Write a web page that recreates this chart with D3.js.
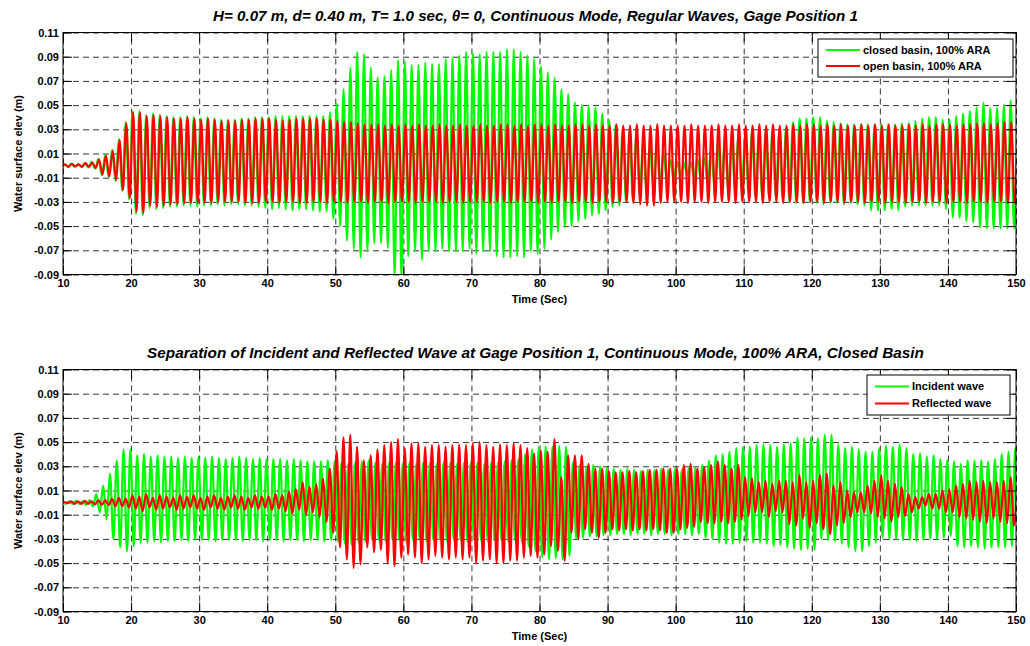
<!DOCTYPE html>
<html>
<head>
<meta charset="utf-8">
<script src="https://cdn.jsdelivr.net/npm/d3@7"></script>
<style>
body { margin: 0; background: #fff; }
text { font-family: "Liberation Sans", Arial, sans-serif; }
.grid line { stroke: #000; stroke-dasharray: 6,4; stroke-width: 0.8; }
.grid path { display: none; }
.ax path { display: none; }
.ax line { stroke: #000; }
.ax text { font-size: 11px; font-weight: bold; fill: #000; }
</style>
</head>
<body>
<script>
var width = 1030,
    height = 646;

// tick labels
var timeTicks = [10, 20, 30, 40, 50, 60, 70, 80, 90, 100, 110, 120, 130, 140, 150];
var elevTicks = [-0.09, -0.07, -0.05, -0.03, -0.01, 0.01, 0.03, 0.05, 0.07, 0.09, 0.11];

// one wave cycle per second (T = 1.0 sec), crest and trough read per cycle
var cycleSec = d3.range(10, 150);

// top panel: closed basin (green)
var closedPeak = [
  .001,.0015,.001,.002,.003,.0055,.009,.013,.022,.036,
  .045,.045,.042,.043,.042,.041,.040,.040,.041,.040,
  .039,.040,.039,.038,.038,.038,.039,.039,.040,.040,
  .040,.041,.041,.041,.041,.041,.041,.041,.041,.044,
  .051,.063,.081,.094,.092,.081,.073,.074,.079,.087,
  .086,.083,.083,.085,.084,.084,.088,.089,.091,.094,
  .093,.092,.094,.094,.094,.096,.096,.094,.091,.088,
  .082,.077,.0725,.063,.059,.052,.050,.049,.048,.043,
  .038,.034,.031,.028,.025,.020,.017,.0155,.011,.0045,
  .003,.002,.003,.005,.007,.015,.020,.021,.0225,.024,
  .025,.028,.027,.028,.029,.029,.031,.036,.039,.039,
  .040,.040,.037,.036,.035,.034,.034,.034,.034,.034,
  .034,.034,.034,.035,.035,.037,.039,.040,.040,.038,
  .038,.041,.043,.045,.048,.052,.0475,.048,.050,.054
];
var closedTrough = [
  -.001,-.001,-.001,-.0015,-.0025,-.008,-.0095,-.0125,-.021,-.028,
  -.040,-.041,-.035,-.036,-.035,-.034,-.034,-.033,-.033,-.034,
  -.033,-.033,-.032,-.033,-.032,-.032,-.033,-.033,-.034,-.035,
  -.036,-.035,-.036,-.037,-.036,-.036,-.037,-.038,-.038,-.044,
  -.050,-.062,-.069,-.076,-.071,-.064,-.064,-.068,-.092,-.092,
  -.075,-.071,-.078,-.071,-.071,-.069,-.071,-.071,-.071,-.069,
  -.073,-.071,-.071,-.075,-.076,-.076,-.075,-.076,-.071,-.073,
  -.069,-.061,-.055,-.051,-.050,-.046,-.044,-.041,-.040,-.037,
  -.034,-.033,-.030,-.029,-.025,-.021,-.018,-.016,-.014,-.011,
  -.008,-.008,-.0095,-.012,-.015,-.019,-.019,-.019,-.019,-.021,
  -.022,-.025,-.025,-.026,-.026,-.0275,-.030,-.031,-.031,-.030,
  -.031,-.032,-.031,-.031,-.032,-.031,-.032,-.033,-.037,-.037,
  -.037,-.036,-.037,-.034,-.033,-.033,-.033,-.033,-.033,-.036,
  -.043,-.043,-.046,-.047,-.051,-.052,-.052,-.052,-.052,-.052
];

// top panel: open basin (red)
var openPeak = [
  .001,.0015,.001,.002,.0025,.005,.0085,.0125,.021,.035,
  .044,.044,.041,.042,.041,.040,.039,.039,.040,.039,
  .038,.039,.038,.037,.037,.037,.038,.038,.039,.039,
  .039,.038,.037,.038,.039,.039,.039,.039,.038,.038,
  .037,.036,.036,.035,.034,.034,.034,.033,.034,.033,
  .034,.033,.034,.033,.033,.034,.033,.033,.034,.033,
  .033,.034,.033,.033,.034,.034,.033,.034,.033,.034,
  .034,.033,.034,.033,.033,.034,.034,.033,.034,.033,
  .033,.034,.033,.033,.034,.033,.033,.034,.033,.033,
  .033,.033,.034,.033,.033,.033,.034,.033,.033,.034,
  .033,.033,.034,.033,.034,.033,.033,.034,.033,.034,
  .034,.033,.034,.033,.034,.033,.033,.034,.033,.034,
  .033,.034,.033,.033,.034,.033,.034,.033,.034,.034,
  .034,.033,.034,.034,.035,.035,.034,.035,.036,.036
];
var openTrough = [
  -.001,-.0005,-.001,-.001,-.002,-.0075,-.009,-.012,-.020,-.027,
  -.038,-.039,-.033,-.034,-.033,-.032,-.032,-.031,-.031,-.031,
  -.031,-.031,-.030,-.030,-.030,-.030,-.031,-.031,-.031,-.030,
  -.030,-.031,-.030,-.030,-.031,-.031,-.030,-.030,-.031,-.030,
  -.030,-.031,-.030,-.030,-.031,-.030,-.030,-.031,-.030,-.030,
  -.030,-.031,-.030,-.030,-.030,-.031,-.030,-.030,-.031,-.030,
  -.030,-.030,-.031,-.030,-.030,-.031,-.030,-.030,-.030,-.031,
  -.030,-.031,-.030,-.030,-.031,-.030,-.030,-.031,-.030,-.030,
  -.031,-.030,-.030,-.031,-.032,-.033,-.033,-.031,-.030,-.030,
  -.030,-.031,-.030,-.030,-.031,-.030,-.030,-.030,-.031,-.030,
  -.030,-.030,-.031,-.030,-.030,-.031,-.030,-.030,-.031,-.030,
  -.030,-.031,-.030,-.030,-.031,-.030,-.030,-.031,-.030,-.030,
  -.031,-.030,-.030,-.031,-.030,-.030,-.031,-.030,-.030,-.031,
  -.030,-.030,-.031,-.030,-.030,-.031,-.030,-.030,-.031,-.031
];

// bottom panel: incident wave (green)
var incidentPeak = [
  .001,.0015,.001,.002,.007,.014,.024,.035,.044,.044,
  .039,.040,.038,.039,.038,.038,.037,.038,.037,.038,
  .037,.038,.037,.036,.037,.038,.037,.036,.037,.036,
  .036,.036,.035,.036,.035,.034,.034,.034,.035,.034,
  .033,.032,.033,.034,.035,.033,.032,.033,.033,.032,
  .033,.032,.033,.033,.032,.033,.033,.032,.033,.033,
  .033,.032,.033,.033,.034,.035,.036,.040,.044,.046,
  .046,.046,.047,.046,.033,.031,.030,.031,.030,.029,
  .028,.027,.028,.027,.026,.027,.027,.028,.027,.028,
  .027,.028,.029,.031,.035,.039,.040,.042,.045,.046,
  .046,.0475,.048,.0475,.046,.048,.049,.0535,.053,.054,
  .053,.056,.056,.048,.045,.046,.044,.042,.042,.045,
  .047,.046,.048,.045,.040,.041,.038,.039,.036,.035,
  .034,.032,.035,.035,.035,.034,.036,.040,.042,.045
];
var incidentTrough = [
  -.001,-.001,-.002,-.003,-.008,-.014,-.030,-.037,-.040,-.036,
  -.033,-.033,-.032,-.033,-.032,-.032,-.031,-.032,-.031,-.031,
  -.031,-.032,-.031,-.031,-.031,-.032,-.031,-.031,-.032,-.031,
  -.031,-.032,-.031,-.031,-.032,-.031,-.031,-.032,-.031,-.032,
  -.034,-.035,-.033,-.032,-.031,-.031,-.032,-.031,-.031,-.032,
  -.031,-.031,-.032,-.031,-.031,-.032,-.031,-.031,-.032,-.031,
  -.031,-.032,-.031,-.031,-.032,-.031,-.033,-.036,-.040,-.045,
  -.047,-.046,-.047,-.044,-.030,-.029,-.028,-.028,-.027,-.027,
  -.026,-.026,-.027,-.026,-.026,-.027,-.026,-.026,-.027,-.026,
  -.026,-.027,-.026,-.029,-.030,-.033,-.034,-.034,-.033,-.032,
  -.033,-.033,-.034,-.036,-.035,-.037,-.038,-.039,-.038,-.039,
  -.030,-.031,-.032,-.034,-.037,-.040,-.040,-.036,-.033,-.029,
  -.030,-.030,-.031,-.031,-.032,-.031,-.030,-.030,-.029,-.0275,
  -.036,-.037,-.036,-.037,-.038,-.037,-.037,-.037,-.036,-.043
];

// bottom panel: reflected wave (red)
var reflectedPeak = [
  .0005,.001,.001,.0015,.001,.002,.002,.003,.004,.003,
  .006,.005,.007,.004,.006,.005,.004,.006,.005,.006,
  .004,.005,.006,.004,.005,.006,.005,.004,.006,.005,
  .005,.007,.006,.009,.011,.017,.013,.015,.020,.028,
  .0425,.054,.056,.046,.035,.039,.044,.0475,.050,.0525,
  .045,.049,.049,.046,.0475,.0475,.046,.0475,.048,.0475,
  .049,.050,.0475,.046,.048,.0475,.049,.0475,.045,.0405,
  .043,.042,.0525,.021,.039,.039,.039,.032,.028,.028,
  .026,.025,.025,.026,.025,.026,.027,.027,.028,.028,
  .028,.031,.032,.028,.029,.031,.034,.031,.028,.031,
  .021,.020,.017,.018,.0155,.018,.018,.017,.0225,.017,
  .018,.0225,.024,.014,.017,.010,.0085,.0085,.014,.018,
  .0225,.018,.0155,.013,.007,.0045,.0045,.007,.007,.010,
  .011,.014,.0155,.018,.017,.018,.017,.017,.018,.021
];
var reflectedTrough = [
  -.0005,-.001,-.001,-.001,-.0015,-.002,-.002,-.003,-.003,-.004,
  -.005,-.007,-.004,-.006,-.005,-.004,-.006,-.005,-.004,-.005,
  -.006,-.004,-.005,-.006,-.004,-.005,-.006,-.004,-.005,-.004,
  -.006,-.005,-.007,-.009,-.006,-.010,-.008,-.012,-.016,-.025,
  -.037,-.047,-.054,-.051,-.037,-.041,-.039,-.050,-.0525,-.0455,
  -.043,-.0455,-.050,-.047,-.044,-.0455,-.047,-.0455,-.047,-.0455,
  -.050,-.048,-.047,-.050,-.050,-.048,-.048,-.0455,-.044,-.0455,
  -.043,-.036,-.040,-.048,-.025,-.030,-.022,-.025,-.029,-.025,
  -.022,-.023,-.022,-.023,-.022,-.023,-.022,-.023,-.025,-.025,
  -.022,-.021,-.020,-.016,-.017,-.017,-.016,-.017,-.016,-.014,
  -.011,-.008,-.008,-.012,-.007,-.008,-.018,-.019,-.0135,-.021,
  -.017,-.022,-.026,-.019,-.017,-.012,-.008,-.008,-.009,-.012,
  -.013,-.016,-.012,-.011,-.008,-.005,-.0025,-.005,-.005,-.008,
  -.008,-.012,-.013,-.0145,-.016,-.017,-.013,-.016,-.017,-.019
];

var margin = { left: 63, right: 14 },
    plotW = width - margin.left - margin.right,
    plotH = 242;

var panels = [
  {
    top: 32.5,
    title: "H= 0.07 m, d= 0.40 m, T= 1.0 sec, \u03b8= 0, Continuous Mode, Regular Waves, Gage Position 1",
    titleLen: 645,
    legend: { right: 3, top: 6.5, w: 195, h: 38 },
    series: [
      { name: "closed basin, 100% ARA", color: "#00ff00", peaks: closedPeak, troughs: closedTrough, phase: 0.22 },
      { name: "open basin, 100% ARA", color: "#ff0000", peaks: openPeak, troughs: openTrough, phase: 0.3 }
    ]
  },
  {
    top: 369.5,
    title: "Separation of Incident and Reflected Wave at Gage Position 1, Continuous Mode, 100% ARA, Closed Basin",
    titleLen: 777,
    legend: { right: 6, top: 5.5, w: 143, h: 40 },
    series: [
      { name: "Incident wave", color: "#00ff00", peaks: incidentPeak, troughs: incidentTrough, phase: 0.9 },
      { name: "Reflected wave", color: "#ff0000", peaks: reflectedPeak, troughs: reflectedTrough, phase: 0.2 }
    ]
  }
];

var x = d3.scaleLinear().domain([10, 150]).range([0, plotW]);
var y = d3.scaleLinear().domain([-0.09, 0.11]).range([plotH, 0]);

var line = d3.line()
    .x(function(d) { return x(d[0]); })
    .y(function(d) { return y(d[1]); })
    .curve(d3.curveMonotoneX);

// crest / trough sequence of one record
function wavePoints(s) {
  var t0 = cycleSec[0] + s.phase;
  var pts = [[t0 - 1, s.peaks[0]], [t0 - 0.5, s.troughs[0]]];
  cycleSec.forEach(function(t, i) {
    pts.push([t + s.phase, s.peaks[i]]);
    pts.push([t + s.phase + 0.5, s.troughs[i]]);
  });
  pts.push([cycleSec[cycleSec.length - 1] + 1 + s.phase, s.peaks[s.peaks.length - 1]]);
  return pts;
}

var svg = d3.select("body")
  .append("svg")
    .attr("width", width)
    .attr("height", height);

svg.append("rect").attr("width", width).attr("height", height).attr("fill", "#fff");

panels.forEach(function(p, pi) {
  var g = svg.append("g")
      .attr("transform", "translate(" + margin.left + "," + p.top + ")");

  // grid
  g.append("g")
      .attr("class", "grid")
      .attr("transform", "translate(0," + plotH + ")")
      .call(d3.axisBottom(x).tickValues(timeTicks).tickSize(-plotH).tickFormat(""));
  g.append("g")
      .attr("class", "grid")
      .call(d3.axisLeft(y).tickValues(elevTicks).tickSize(-plotW).tickFormat(""));

  // data
  var clipId = "clip" + pi;
  g.append("clipPath").attr("id", clipId)
    .append("rect").attr("width", plotW).attr("height", plotH);

  p.series.forEach(function(s) {
    g.append("path")
        .datum(wavePoints(s))
        .attr("clip-path", "url(#" + clipId + ")")
        .attr("fill", "none")
        .attr("stroke", s.color)
        .attr("stroke-width", 2.2)
        .attr("stroke-linejoin", "round")
        .attr("d", line);
  });

  // axes, ticks pointing in on all sides
  g.append("g")
      .attr("class", "ax")
      .attr("transform", "translate(0," + plotH + ")")
      .call(d3.axisBottom(x).tickValues(timeTicks).tickSizeInner(-9).tickSizeOuter(0).tickPadding(5));
  g.append("g")
      .attr("class", "ax")
      .call(d3.axisTop(x).tickValues(timeTicks).tickSizeInner(-9).tickSizeOuter(0).tickFormat(""));
  g.append("g")
      .attr("class", "ax")
      .call(d3.axisLeft(y).tickValues(elevTicks).tickSizeInner(-9).tickSizeOuter(0).tickPadding(4)
        .tickFormat(function(d) { return d.toFixed(2); }));
  g.append("g")
      .attr("class", "ax")
      .attr("transform", "translate(" + plotW + ",0)")
      .call(d3.axisRight(y).tickValues(elevTicks).tickSizeInner(-9).tickSizeOuter(0).tickFormat(""));

  g.append("rect")
      .attr("width", plotW)
      .attr("height", plotH)
      .attr("fill", "none")
      .attr("stroke", "#000")
      .attr("stroke-width", 1);

  // labels
  g.append("text")
      .attr("x", plotW / 2 - 4)
      .attr("y", -12)
      .attr("text-anchor", "middle")
      .attr("font-size", 14)
      .attr("font-weight", "bold")
      .attr("font-style", "italic")
      .attr("textLength", p.titleLen)
      .attr("lengthAdjust", "spacingAndGlyphs")
      .text(p.title);

  g.append("text")
      .attr("x", plotW / 2)
      .attr("y", plotH + 28)
      .attr("text-anchor", "middle")
      .attr("font-size", 11)
      .attr("font-weight", "bold")
      .text("Time (Sec)");

  g.append("text")
      .attr("transform", "translate(" + (-41) + "," + (plotH / 2) + ") rotate(-90)")
      .attr("text-anchor", "middle")
      .attr("font-size", 11)
      .attr("font-weight", "bold")
      .text("Water surface elev (m)");

  // legend
  var L = p.legend;
  var lg = g.append("g")
      .attr("transform", "translate(" + (plotW - L.right - L.w) + "," + L.top + ")");
  lg.append("rect")
      .attr("width", L.w)
      .attr("height", L.h)
      .attr("fill", "#fff")
      .attr("stroke", "#000");
  var rowGap = L.h / 2 - 3;
  p.series.forEach(function(s, i) {
    var ry = L.h / 2 - rowGap / 2 + i * rowGap;
    lg.append("line")
        .attr("x1", 8).attr("x2", 42)
        .attr("y1", ry).attr("y2", ry)
        .attr("stroke", s.color)
        .attr("stroke-width", 2);
    lg.append("text")
        .attr("x", 45)
        .attr("y", ry)
        .attr("dy", "0.35em")
        .attr("font-size", 11)
        .attr("font-weight", "bold")
        .text(s.name);
  });
});
</script>
</body>
</html>
